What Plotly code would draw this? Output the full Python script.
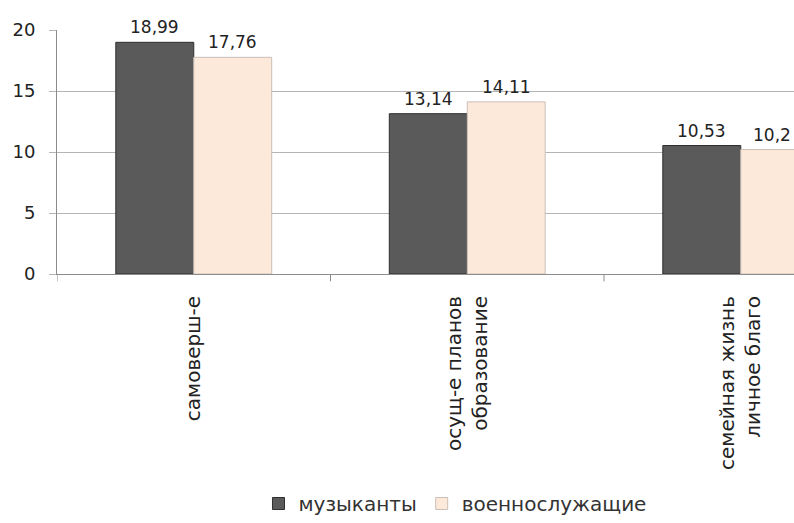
import plotly.graph_objects as go

# Categories (rotated axis labels) and the two series
categories = ["самоверш-е", "осущ-е планов<br>образование", "семейная жизнь<br>личное благо"]
musicians = [18.99, 13.14, 10.53]
military = [17.76, 14.11, 10.2]
series_names = ["музыканты", "военнослужащие"]
y_ticks = [0, 5, 10, 15, 20]

FONT = "DejaVu Sans"
DARK = "#5a5a5a"
LIGHT = "#fde9d9"

fig = go.Figure()
fig.add_trace(go.Bar(
    x=list(range(len(categories))), y=musicians, name=series_names[0],
    marker=dict(color=DARK, line=dict(color="#2e2e2e", width=1)),
))
fig.add_trace(go.Bar(
    x=list(range(len(categories))), y=military, name=series_names[1],
    marker=dict(color=LIGHT, line=dict(color="#c9bfb8", width=1)),
))

# Value labels above each bar
half = 0.1425
for series, offset in ((musicians, -half), (military, half)):
    for i, v in enumerate(series):
        label = str(v).replace(".", ",")
        shift = -8 if (i == len(series) - 1 and offset > 0) else 0
        fig.add_annotation(
            x=i + offset, y=v, text=label, showarrow=False,
            xref="x", yref="y", yanchor="bottom", yshift=3, xshift=shift,
            font=dict(family=FONT, size=17, color="#222222"),
        )

fig.update_layout(
    width=794, height=523,
    margin=dict(l=57, r=0, t=30, b=246),
    paper_bgcolor="white", plot_bgcolor="white",
    barmode="group", bargap=0.43, bargroupgap=0,
    showlegend=True,
    legend=dict(
        orientation="h", x=0.54, xanchor="center", y=-0.943, yanchor="middle",
        font=dict(family=FONT, size=20, color="#333333"),
        itemwidth=30, traceorder="normal",
    ),
    font=dict(family=FONT, color="#333333"),
)

fig.update_xaxes(
    type="linear",
    range=[-0.5, -0.5 + 737 / 273.5],
    tickmode="array",
    tickvals=list(range(len(categories))),
    ticktext=categories,
    tickangle=-90,
    tickfont=dict(family=FONT, size=20, color="#222222"),
    ticklabelstandoff=13,
    showgrid=False, zeroline=False,
    showline=True, linecolor="#8c8c8c", linewidth=1,
    ticks="", ticklen=0,
)

# Boundary tick marks between categories on the x axis
for b in (-0.5, 0.5, 1.5):
    fig.add_shape(
        type="line", xref="x", yref="paper", x0=b, x1=b, y0=0, y1=-0.03,
        line=dict(color="#8c8c8c", width=1),
    )

fig.update_yaxes(
    range=[0, 20],
    tickmode="array", tickvals=y_ticks,
    tickfont=dict(family=FONT, size=18, color="#222222"),
    ticklabelstandoff=10,
    showgrid=True, gridcolor="#b4b4b4", gridwidth=1,
    zeroline=False,
    showline=True, linecolor="#8c8c8c", linewidth=1,
    ticks="outside", ticklen=7, tickcolor="#b4b4b4",
)

fig.write_html("out.html")
